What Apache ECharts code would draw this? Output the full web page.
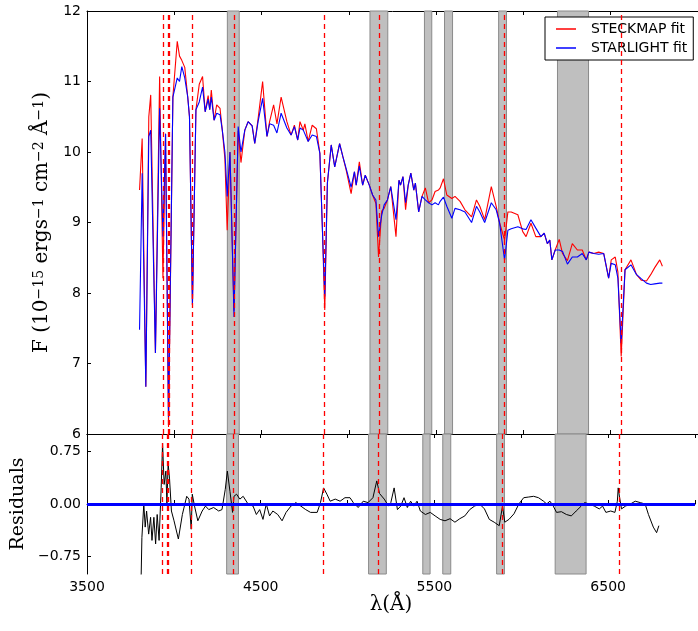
<!DOCTYPE html>
<html>
<head>
<meta charset="utf-8">
<script src="https://cdn.jsdelivr.net/npm/echarts@6/dist/echarts.min.js"></script>
<style>html,body{margin:0;background:#fff}#main{width:698px;height:631px}</style>
</head>
<body>
<div id="main"></div>
<script>
// wavelength grid (Angstrom) and fitted flux
var wave = [3801,3816,3837,3854,3865,3892,3916,3935,3950,3967,3992,4017,4030,4043,4060,4077,4087,4104,4124,4143,
  4162,4177,4194,4203,4212,4228,4243,4262,4275,4290,4303,4319,4342,4366,4382,4404,4423,4446,4461,4480,
  4506,4531,4546,4569,4588,4612,4645,4669,4688,4707,4720,4739,4748,4767,4790,4814,4834,4848,4862,4877,
  4899,4919,4947,4966,4985,5013,5032,5042,5060,5079,5094,5117,5136,5155,5170,5188,5202,5221,5240,5270,
  5287,5296,5310,5325,5340,5355,5372,5381,5400,5419,5438,5457,5476,5494,5513,5523,5542,5561,5590,5608,
  5637,5665,5703,5731,5750,5778,5816,5844,5863,5892,5911,5930,5968,5996,6015,6043,6071,6100,6119,6137,
  6151,6163,6182,6205,6224,6252,6280,6309,6337,6360,6375,6403,6431,6460,6488,6503,6526,6541,6560,6582,
  6616,6648,6676,6705,6729,6752,6781,6796];
var steckmap = [9.46,10.19,6.67,10.5,10.81,7.15,11.07,8.21,10.26,6.10,10.78,11.57,11.36,11.3,11.2,10.78,10.5,7.83,10.6,10.96,
  11.07,10.57,10.8,10.6,10.88,10.45,10.67,10.62,10.31,9.9,8.89,10.0,7.75,10.3,9.85,10.31,10.43,10.37,10.12,10.47,
  11.0,10.22,10.43,10.67,10.40,10.78,10.43,10.24,10.38,10.17,10.43,10.31,10.40,10.15,10.38,10.33,9.98,8.94,7.76,9.56,
  10.1,9.79,10.12,9.93,9.74,9.41,9.72,9.53,9.86,9.53,9.67,9.53,9.39,9.27,8.51,9.16,9.2,9.32,9.51,8.8,
  9.6,9.53,9.65,9.18,9.53,9.70,9.46,9.56,9.15,9.37,9.49,9.28,9.32,9.44,9.46,9.49,9.62,9.39,9.34,9.37,
  9.30,9.18,9.08,9.32,9.23,9.04,9.51,9.23,9.0,8.75,9.15,9.15,9.11,8.87,8.80,8.99,8.80,8.8,8.85,8.7,
  8.75,8.47,8.61,8.76,8.56,8.46,8.70,8.61,8.61,8.47,8.58,8.56,8.58,8.56,8.21,8.47,8.51,8.30,7.10,8.33,
  8.47,8.26,8.18,8.17,8.26,8.36,8.47,8.38];
var starlight = [7.48,9.70,6.67,10.22,10.31,7.15,10.62,8.80,10.26,6.24,10.78,11.05,11.0,11.21,11.05,10.78,10.5,7.83,10.6,10.71,
  10.92,10.57,10.75,10.6,10.78,10.45,10.55,10.53,10.31,10.0,9.37,10.0,7.66,10.36,10.0,10.31,10.43,10.37,10.12,10.43,
  10.76,10.22,10.40,10.38,10.27,10.55,10.34,10.24,10.36,10.17,10.34,10.31,10.31,10.15,10.24,10.22,9.98,8.94,7.95,9.56,
  10.1,9.79,10.12,9.93,9.76,9.5,9.72,9.53,9.8,9.53,9.67,9.53,9.39,9.32,8.80,9.1,9.25,9.32,9.51,9.04,
  9.6,9.53,9.65,9.28,9.53,9.70,9.46,9.56,9.15,9.37,9.32,9.28,9.25,9.28,9.25,9.30,9.36,9.23,9.06,9.20,
  9.18,9.15,9.0,9.23,9.15,9.0,9.28,9.18,9.0,8.47,8.89,8.91,8.94,8.91,8.90,9.04,8.92,8.8,8.85,8.7,
  8.75,8.47,8.61,8.61,8.59,8.41,8.51,8.51,8.56,8.47,8.58,8.56,8.55,8.56,8.21,8.42,8.40,8.21,7.29,8.33,
  8.40,8.26,8.20,8.14,8.12,8.13,8.14,8.14];

// residuals
var resWave = [3801,3812,3816,3827,3835,3843,3855,3866,3874,3885,3895,3904,3915,3927,3935,3944,3954,3960,3967,3975,
  3986,4001,4026,4049,4074,4087,4100,4106,4119,4138,4163,4182,4201,4229,4258,4277,4296,4308,4323,4338,
  4346,4361,4380,4399,4427,4456,4475,4494,4513,4532,4551,4570,4598,4623,4646,4674,4702,4731,4759,4787,
  4825,4844,4862,4881,4900,4929,4957,4985,5014,5033,5061,5090,5118,5146,5168,5184,5211,5236,5249,5268,
  5287,5306,5325,5344,5363,5381,5400,5419,5448,5476,5504,5533,5561,5590,5618,5646,5675,5703,5731,5760,
  5788,5816,5844,5873,5892,5905,5929,5958,5986,6014,6043,6071,6099,6128,6146,6165,6184,6203,6231,6260,
  6288,6316,6345,6364,6392,6420,6449,6468,6487,6515,6539,6553,6558,6566,6577,6600,6628,6656,6685,6713,
  6732,6760,6779,6792];
var residual = [-1.3,-1.0,-0.48,0.0,-0.33,-0.1,-0.43,-0.19,-0.52,-0.19,-0.57,-0.15,-0.52,0.23,0.87,0.28,0.47,0.0,0.58,0.37,
  -0.1,-0.24,-0.5,-0.15,0.11,0.07,-0.36,0.14,-0.03,-0.24,-0.1,-0.03,-0.08,-0.05,-0.1,-0.08,0.21,0.47,0.18,-0.12,
  0.11,0.14,0.07,0.11,0.0,-0.03,-0.15,-0.08,-0.22,0.0,-0.17,-0.1,-0.15,-0.24,-0.12,-0.03,0.02,-0.03,-0.08,-0.12,
  -0.12,0.02,0.23,0.14,0.04,0.07,0.04,0.09,0.09,0.02,-0.05,0.04,0.02,0.09,0.33,0.15,0.07,-0.03,0.02,0.23,
  -0.08,-0.03,0.09,-0.05,0.04,-0.03,0.04,-0.1,-0.15,-0.12,-0.17,-0.22,-0.24,-0.21,-0.26,-0.21,-0.17,-0.08,-0.03,0.0,
  -0.07,-0.22,-0.26,-0.31,-0.03,-0.26,-0.22,-0.14,0.0,0.09,0.1,0.11,0.09,0.04,0.0,0.04,-0.03,-0.12,-0.11,-0.15,
  -0.17,-0.1,-0.03,0.02,0.0,-0.03,-0.07,-0.03,-0.12,-0.1,-0.12,0.04,0.23,0.09,-0.07,-0.03,0.0,0.04,0.02,0.0,
  -0.15,-0.33,-0.41,-0.31];

// masked regions and line positions
var bandStart = [4304,5121,5433,5548,5858,6195];
var bandEnd   = [4372,5223,5475,5594,5903,6373];
var lineWaves = [3934,3963,3970,4102,4341,4861,5175,5890,6563];
var xLabels = [3500,4500,5500,6500];
var resTicks = [-0.75,0,0.75];

function zip(xs, ys){ return xs.map(function(x,i){ return [x, ys[i]]; }); }

var bands = bandStart.map(function(s,i){ return [{xAxis: s}, {xAxis: bandEnd[i]}]; });
var markAreaOpt = {
  silent: true,
  itemStyle: {color: '#bfbfbf', borderColor: '#8a8a8a', borderWidth: 1},
  data: bands
};
var dashLine = {color: '#ff0000', type: [5, 4], width: 1.3};
var dashed = lineWaves.map(function(w){ return {xAxis: w}; });

var serif = 'DejaVu Serif';

function xAx(grid, pos, labels){
  return {
    type: 'value', gridIndex: grid, position: pos, min: 3500, max: 7000, interval: 500,
    axisLine: {show: true, lineStyle: {color: '#000', width: 1}},
    axisTick: {show: true, inside: true, length: 4, lineStyle: {color: '#000'}},
    axisLabel: labels ? {
      show: true, margin: 6, fontFamily: 'DejaVu Sans', fontSize: 14, color: '#000',
      formatter: function(v){ return xLabels.indexOf(v) >= 0 ? String(v) : ''; }
    } : {show: false},
    splitLine: {show: false}
  };
}

var myChart = echarts.init(document.getElementById('main'));
var option = {
  animation: false,
  backgroundColor: '#fff',
  grid: [
    {left: 87, top: 11, width: 617, height: 423},
    {left: 87, top: 434, width: 617, height: 140}
  ],
  legend: {
    data: ['STECKMAP fit', 'STARLIGHT fit'],
    orient: 'vertical', left: 545, top: 17,
    icon: 'rect', itemWidth: 20, itemHeight: 1.5,
    padding: [5, 6, 5, 11], itemGap: 5,
    borderColor: '#000', borderWidth: 1, backgroundColor: '#fff',
    textStyle: {fontFamily: 'DejaVu Sans', fontSize: 14, color: '#000', padding: [0, 0, 0, 10]}
  },
  xAxis: [
    xAx(0, 'bottom', false),
    xAx(0, 'top', false),
    Object.assign(xAx(1, 'bottom', true), {
      name: 'λ(Å)', nameLocation: 'middle', nameGap: 18,
      nameTextStyle: {fontFamily: serif, fontSize: 20, color: '#000'}
    }),
    xAx(1, 'top', false)
  ],
  yAxis: [
    {
      type: 'value', gridIndex: 0, min: 6, max: 12, interval: 1,
      name: '{t|F (10}{s|−15}{t| ergs}{s|−1}{t| cm}{s|−2}{t| Å}{s|−1}{t|)}',
      nameLocation: 'middle', nameGap: 32,
      nameTextStyle: {rich: {
        t: {fontFamily: serif, fontSize: 20, color: '#000'},
        s: {fontFamily: serif, fontSize: 14, color: '#000', verticalAlign: 'top'}
      }},
      axisLine: {show: true, lineStyle: {color: '#000'}},
      axisTick: {show: true, inside: true, length: 4, lineStyle: {color: '#000'}},
      axisLabel: {margin: 6, fontFamily: 'DejaVu Sans', fontSize: 14, color: '#000'},
      splitLine: {show: false}
    },
    {
      type: 'value', gridIndex: 1, min: -1, max: 1,
      name: 'Residuals', nameLocation: 'middle', nameGap: 38,
      nameTextStyle: {fontFamily: serif, fontSize: 19, color: '#000'},
      axisLine: {show: true, lineStyle: {color: '#000'}},
      axisTick: {show: true, inside: true, length: 4, customValues: resTicks, lineStyle: {color: '#000'}},
      axisLabel: {
        margin: 6, fontFamily: 'DejaVu Sans', fontSize: 14, color: '#000', customValues: resTicks,
        formatter: function(v){ return v.toFixed(2).replace('-', '−'); }
      },
      splitLine: {show: false}
    }
  ],
  series: [
    {
      name: 'STECKMAP fit', type: 'line', xAxisIndex: 0, yAxisIndex: 0,
      data: zip(wave, steckmap), symbol: 'none', color: '#ff0000',
      lineStyle: {color: '#ff0000', width: 1.1},
      markArea: markAreaOpt,
      markLine: {silent: true, symbol: 'none', label: {show: false}, lineStyle: dashLine, data: dashed}
    },
    {
      name: 'STARLIGHT fit', type: 'line', xAxisIndex: 0, yAxisIndex: 0,
      data: zip(wave, starlight), symbol: 'none', color: '#0000ff',
      lineStyle: {color: '#0000ff', width: 1.1}
    },
    {
      name: 'Residuals', type: 'line', xAxisIndex: 2, yAxisIndex: 1,
      data: zip(resWave, residual), symbol: 'none', color: '#000',
      lineStyle: {color: '#000', width: 1}, clip: true,
      markArea: markAreaOpt,
      markLine: {
        silent: true, symbol: 'none', label: {show: false}, lineStyle: dashLine,
        data: dashed.concat([{yAxis: 0, lineStyle: {color: '#0000ff', type: 'solid', width: 3}}])
      }
    }
  ]
};
myChart.setOption(option);
</script>
</body>
</html>
